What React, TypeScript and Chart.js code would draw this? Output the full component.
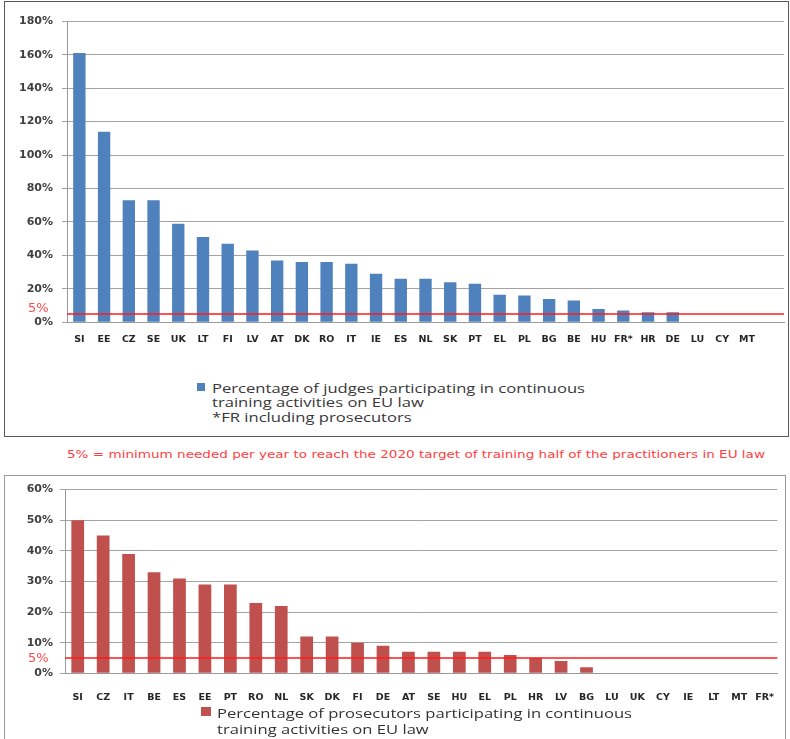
import React, { useEffect, useRef } from "react";
import { Chart, registerables } from "chart.js";

Chart.register(...registerables);

// ---------- data ----------
const judgeCountries = ["SI", "EE", "CZ", "SE", "UK", "LT", "FI", "LV", "AT", "DK", "RO", "IT", "IE", "ES", "NL", "SK", "PT", "EL", "PL", "BG", "BE", "HU", "FR*", "HR", "DE", "LU", "CY", "MT"];
const judgeValues = [161, 114, 73, 73, 59, 51, 47, 43, 37, 36, 36, 35, 29, 26, 26, 24, 23, 16.5, 16, 14, 13, 8, 7, 6, 6, 0, 0, 0];
const judgeAxisMax = 180;
const judgeAxisStep = 20;

const prosecutorCountries = ["SI", "CZ", "IT", "BE", "ES", "EE", "PT", "RO", "NL", "SK", "DK", "FI", "DE", "AT", "SE", "HU", "EL", "PL", "HR", "LV", "BG", "LU", "UK", "CY", "IE", "LT", "MT", "FR*"];
const prosecutorValues = [50, 45, 39, 33, 31, 29, 29, 23, 22, 12, 12, 10, 9, 7, 7, 7, 7, 6, 5, 4, 2, 0, 0, 0, 0, 0, 0, 0];
const prosecutorAxisMax = 60;
const prosecutorAxisStep = 10;

const targetLevel = 5;
const targetLabel = "5%";

const judgeLegend = ["Percentage of judges participating in continuous", "training activities on EU law", "*FR including prosecutors"];
const prosecutorLegend = ["Percentage of prosecutors participating in continuous", "training activities on EU law"];
const noteText = "5% = minimum needed per year to reach the 2020 target of training half of the practitioners in EU law";

// ---------- helpers ----------
let measureCtx: CanvasRenderingContext2D | null = null;
function textWidth(text: string, font: string): number {
  if (!measureCtx) measureCtx = document.createElement("canvas").getContext("2d");
  measureCtx!.font = font;
  return measureCtx!.measureText(text).width;
}

const targetLinePlugin = {
  id: "targetLine",
  afterDatasetsDraw(chart: any, _args: any, opts: any) {
    const { ctx, chartArea, scales } = chart;
    const py = scales.y.getPixelForValue(targetLevel);
    ctx.save();
    ctx.strokeStyle = "#ff1a1a";
    ctx.lineWidth = 1.5;
    ctx.beginPath();
    ctx.moveTo(chartArea.left, py);
    ctx.lineTo(chartArea.right, py);
    ctx.stroke();
    ctx.fillStyle = "#ff4a4a";
    ctx.font = '13px "DejaVu Sans"';
    ctx.textAlign = "right";
    ctx.textBaseline = "middle";
    ctx.fillText(targetLabel, opts.labelX, py + opts.labelDy);
    ctx.restore();
  },
};

interface ChartSpec {
  labels: string[];
  values: number[];
  color: string;
  max: number;
  step: number;
  padTop: number;
  padRight: number;
  yWidth: number;
  xHeight: number;
  yTickPad: number;
  xTickPad: number;
  labelX: number;
  labelDy: number;
}

function buildChart(canvas: HTMLCanvasElement, s: ChartSpec) {
  return new Chart(canvas, {
    type: "bar",
    data: {
      labels: s.labels,
      datasets: [
        {
          data: s.values,
          backgroundColor: s.color,
          borderWidth: 0,
          barPercentage: 0.5,
          categoryPercentage: 1,
        },
      ],
    },
    options: {
      responsive: false,
      animation: false,
      devicePixelRatio: 1,
      layout: { padding: { top: s.padTop, right: s.padRight, left: 0, bottom: 0 } },
      plugins: {
        legend: { display: false },
        tooltip: { enabled: false },
        targetLine: { labelX: s.labelX, labelDy: s.labelDy },
      } as any,
      scales: {
        x: {
          grid: { display: false },
          border: { display: true, color: "#9a9a9a", width: 1 },
          ticks: {
            autoSkip: false,
            maxRotation: 0,
            minRotation: 0,
            padding: s.xTickPad,
            color: "#262626",
            font: { family: "DejaVu Sans", size: 9.5, weight: "bold" },
          },
          afterFit: (scale: any) => {
            scale.height = s.xHeight;
          },
        },
        y: {
          min: 0,
          max: s.max,
          grid: { color: "#a3a3a3", lineWidth: 1, tickLength: 5, drawTicks: true },
          border: { display: true, color: "#9a9a9a", width: 1 },
          ticks: {
            stepSize: s.step,
            padding: s.yTickPad,
            color: "#404040",
            font: { family: "DejaVu Sans", size: 11, weight: "bold" },
            callback: (v: any) => v + "%",
          },
          afterFit: (scale: any) => {
            scale.width = s.yWidth;
          },
        },
      },
    },
    plugins: [targetLinePlugin as any],
  });
}

function FitLines(props: {
  lines: string[];
  x: number;
  firstCy: number;
  lineGap: number;
  fitWidth: number;
  font: string;
  color: string;
}) {
  const { lines, x, firstCy, lineGap, fitWidth, font, color } = props;
  const scale = fitWidth / textWidth(lines[0], font);
  const lh = 16;
  return (
    <>
      {lines.map((t, i) => (
        <div
          key={i}
          style={{
            position: "absolute",
            left: x,
            top: firstCy + i * lineGap - lh / 2,
            height: lh,
            lineHeight: lh + "px",
            font,
            color,
            whiteSpace: "nowrap",
            transform: `scaleX(${scale})`,
            transformOrigin: "left center",
          }}
        >
          {t}
        </div>
      ))}
    </>
  );
}

export default function App() {
  const topRef = useRef<HTMLCanvasElement>(null);
  const bottomRef = useRef<HTMLCanvasElement>(null);

  useEffect(() => {
    const top = buildChart(topRef.current!, {
      labels: [...judgeCountries, ""],
      values: judgeValues,
      color: "#4f81bd",
      max: judgeAxisMax,
      step: judgeAxisStep,
      padTop: 19.3,
      padRight: 4,
      yWidth: 62,
      xHeight: 24.7,
      yTickPad: 9,
      xTickPad: 4,
      labelX: 43.5,
      labelDy: -5.5,
    });
    const bottom = buildChart(bottomRef.current!, {
      labels: prosecutorCountries,
      values: prosecutorValues,
      color: "#c0504d",
      max: prosecutorAxisMax,
      step: prosecutorAxisStep,
      padTop: 11.3,
      padRight: 1,
      yWidth: 60,
      xHeight: 32.7,
      yTickPad: 7,
      xTickPad: 11,
      labelX: 43.5,
      labelDy: 1,
    });
    return () => {
      top.destroy();
      bottom.destroy();
    };
  }, []);

  const legendFont = '13px "Open Sans"';
  const noteFont = '10.5px "DejaVu Sans"';

  return (
    <div
      style={{
        position: "absolute",
        left: 0,
        top: 0,
        width: 790,
        height: 739,
        overflow: "hidden",
        background: "#ffffff",
      }}
    >
      {/* top panel */}
      <div
        style={{
          position: "absolute",
          left: 4,
          top: 1,
          width: 785,
          height: 436,
          border: "1px solid #595959",
          boxSizing: "border-box",
        }}
      >
        <canvas
          ref={topRef}
          width={783}
          height={345}
          style={{ position: "absolute", left: 0, top: 0, width: 783, height: 345 }}
        />
      </div>
      <div style={{ position: "absolute", left: 197, top: 383, width: 8, height: 8, background: "#4f81bd" }} />
      <FitLines lines={judgeLegend} x={212} firstCy={386.5} lineGap={14.7} fitWidth={373} font={legendFont} color="#383838" />

      {/* note */}
      <FitLines lines={[noteText]} x={67} firstCy={456} lineGap={0} fitWidth={698} font={noteFont} color="#ff3f3f" />

      {/* bottom panel */}
      <div
        style={{
          position: "absolute",
          left: 4,
          top: 475,
          width: 782,
          height: 300,
          border: "1px solid #9a9a9a",
          boxSizing: "border-box",
        }}
      >
        <canvas
          ref={bottomRef}
          width={780}
          height={230}
          style={{ position: "absolute", left: 0, top: 0, width: 780, height: 230 }}
        />
      </div>
      <div style={{ position: "absolute", left: 201, top: 707, width: 10, height: 9, background: "#c0504d" }} />
      <FitLines lines={prosecutorLegend} x={217} firstCy={712} lineGap={16} fitWidth={415} font={legendFont} color="#333333" />
    </div>
  );
}
